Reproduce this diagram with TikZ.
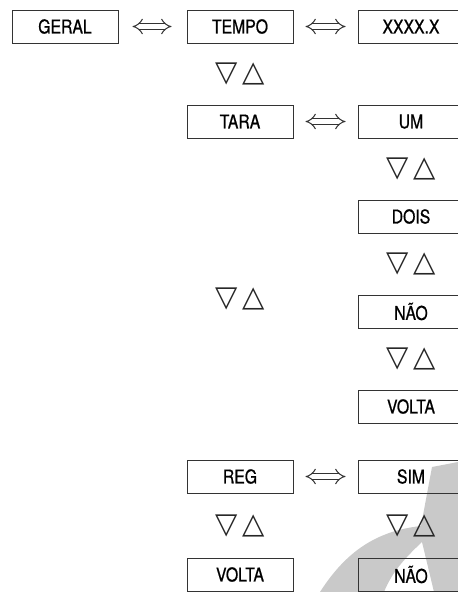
\documentclass[tikz,border=0pt]{standalone}
\usepackage{fontspec}
\usetikzlibrary{positioning,calc,arrows.meta}
\newfontfamily\menufont[FakeStretch=0.83,FakeBold=0.8]{TeX Gyre Heros}
\newfontfamily\trifont{DejaVu Sans}
\def\dy{61pt}

\begin{document}
\begin{tikzpicture}[x=1pt,y=1pt]
  \tikzset{menu/.style={minimum width=106pt,minimum height=33pt,inner sep=0pt,line width=1pt,draw=black!80,font=\menufont\fontsize{19pt}{19pt}\selectfont}}
  \tikzset{updown/.style={inner sep=0pt,text=black!85,font=\trifont\fontsize{29pt}{29pt}\selectfont}}
  \tikzset{toggle/.style={double=white,line width=1pt,double distance=4.5pt,draw=black!80,arrows={Implies[scale=1.7]-Implies[scale=1.7]},shorten <=12pt,shorten >=12pt}}

  \useasboundingbox (0,0) rectangle (458,-592);
  \clip (0,0) rectangle (458,-592);

  % watermark
  \fill[black!21] (320,-592) .. controls (345,-553) and (375,-531) .. (421,-526)
    -- (432,-467) -- (458,-462) -- (458,-592) -- (434,-592) -- (422,-542)
    .. controls (405,-558) and (392,-572) .. (384,-592) -- cycle;

  \node[menu] at (65,-26.5) (geral) {GERAL};
  \node[menu] at (240,-26.5) (tempo) {TEMPO};
  \node[menu] at (411,-26.5) (valor) {XXXX.X};

  \node[menu] (tara) [below=\dy of tempo] {TARA};
  \node[menu] (um) [below=\dy of valor] {UM};
  \node[menu] (dois) [below=\dy of um] {DOIS};
  \node[menu] (naoA) [below=\dy of dois] {NÃO};
  \node[menu] (voltaA) [below=\dy of naoA] {VOLTA};

  \node[menu] (sim) [below=36pt of voltaA] {SIM};
  \node[menu] (reg) at (tempo |- sim) {REG};
  \node[menu] (naoB) [below=64pt of sim] {NÃO};
  \node[menu] (voltaB) [below=64pt of reg] {VOLTA};

  \draw[toggle,shorten <=14pt,shorten >=15pt] (geral) -- (tempo);
  \draw[toggle] (tempo) -- (valor);
  \draw[toggle] (tara) -- (um);
  \draw[toggle] (reg) -- (sim);

  \node[updown] (nav1) at ($(tempo)!.5!(tara)$) {▽\,△};
  \node[updown] (nav2) at ($(um)!.5!(dois)$) {▽\,△};
  \node[updown] (nav3) at ($(dois)!.5!(naoA)$) {▽\,△};
  \node[updown] (nav4) at ($(naoA)!.5!(voltaA)$) {▽\,△};
  \node[updown] (nav5) at ($(tara)!.5!(reg)$) {▽\,△};
  \node[updown] (nav6) at ($(reg)!.5!(voltaB)$) {▽\,△};
  \node[updown] (nav7) at ($(sim)!.5!(naoB)$) {▽\,△};
\end{tikzpicture}
\end{document}
